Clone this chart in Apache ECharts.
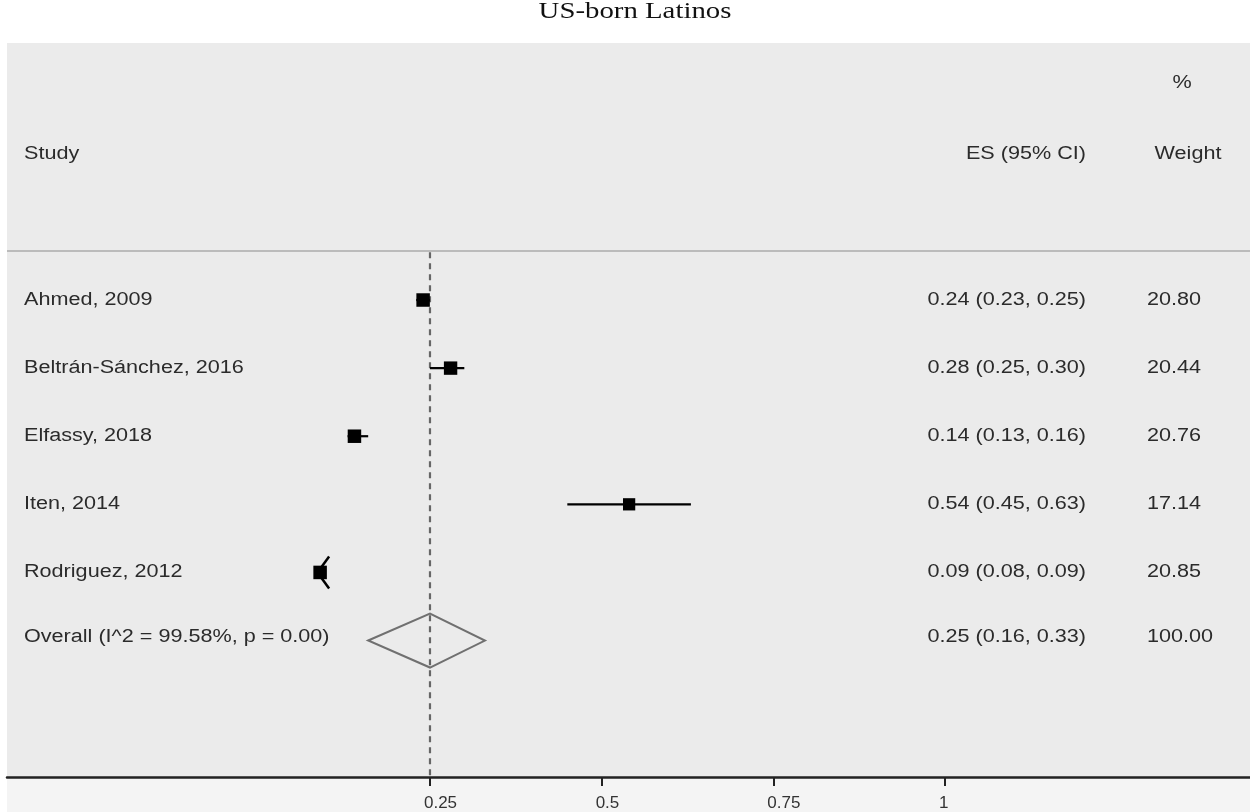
<!DOCTYPE html>
<html>
<head>
<meta charset="utf-8">
<script src="https://cdn.jsdelivr.net/npm/echarts@6/dist/echarts.min.js"></script>
<style>html,body{margin:0;padding:0;background:#fff;}#c{width:1250px;height:812px;}</style>
</head>
<body>
<div id="c"></div>
<script>
// ---- data ----
const chartTitle = "US-born Latinos";
const studies = ["Ahmed, 2009", "Beltrán-Sánchez, 2016", "Elfassy, 2018", "Iten, 2014", "Rodriguez, 2012"];
const es = [0.24, 0.28, 0.14, 0.54, 0.09];
const ciLow = [0.23, 0.25, 0.13, 0.45, 0.08];
const ciHigh = [0.25, 0.30, 0.16, 0.63, 0.09];
const weights = [20.80, 20.44, 20.76, 17.14, 20.85];
const ciArrow = [false, false, false, false, true];
const overallLabel = "Overall (I^2 = 99.58%, p = 0.00)";
const overallES = 0.25, overallLow = 0.16, overallHigh = 0.33, overallWeight = 100.00;
const xTicks = [0.25, 0.5, 0.75, 1];
const headStudy = "Study", headES = "ES (95% CI)", headPct = "%", headWeight = "Weight";

// ---- layout ----
const SX = 1.2;               // horizontal text stretch
const FONT = '18px "Liberation Sans", Arial, sans-serif';
const TXT = '#2b2b2b';
const COL_STUDY = 24, COL_ES = 1086, COL_W = 1147;
const Y_MIN = -3.774, Y_MAX = 7.004;

const chart = echarts.init(document.getElementById('c'));

function txt(x, y, s, align, font, fill) {
  return {
    type: 'text', x: x, y: y, scaleX: SX,
    style: { text: s, fill: fill || TXT, font: font || FONT, align: align, verticalAlign: 'middle' }
  };
}

const rows = studies.map((s, i) => [es[i], i, ciLow[i], ciHigh[i], weights[i]]);

function renderStudy(params, api) {
  const i = params.dataIndex;
  const p = api.coord([api.value(0), api.value(1)]);
  const pl = api.coord([api.value(2), api.value(1)]);
  const ph = api.coord([api.value(3), api.value(1)]);
  const size = 13.5 * Math.sqrt(api.value(4) / 20.8);
  const children = [];
  if (ciArrow[i]) {
    const ex = p[0] + 1;
    children.push({ type: 'line', shape: { x1: ex, y1: p[1] - 5, x2: ex + 8, y2: p[1] - 16 }, style: { stroke: '#000', lineWidth: 2.5 } });
    children.push({ type: 'line', shape: { x1: ex, y1: p[1] + 5, x2: ex + 8, y2: p[1] + 16 }, style: { stroke: '#000', lineWidth: 2.5 } });
  } else {
    children.push({ type: 'line', shape: { x1: pl[0], y1: p[1], x2: ph[0], y2: p[1] }, style: { stroke: '#000', lineWidth: 2.2 } });
  }
  children.push({ type: 'rect', shape: { x: p[0] - size / 2, y: p[1] - size / 2, width: size, height: size }, style: { fill: '#000' } });
  children.push(txt(COL_STUDY, p[1], studies[i], 'left'));
  children.push(txt(COL_ES, p[1], es[i].toFixed(2) + ' (' + ciLow[i].toFixed(2) + ', ' + ciHigh[i].toFixed(2) + ')', 'right'));
  children.push(txt(COL_W, p[1], weights[i].toFixed(2), 'left'));
  return { type: 'group', children: children };
}

function renderOverall(params, api) {
  const y = api.value(1);
  const c = api.coord([api.value(0), y]);
  const l = api.coord([api.value(2), y]);
  const h = api.coord([api.value(3), y]);
  const half = 27;
  const top = api.coord([api.value(0), -0.70])[1];
  const bot = api.coord([api.value(0), Y_MAX])[1];
  const ty = c[1] - 3;
  return {
    type: 'group', children: [
      { type: 'line', shape: { x1: c[0], y1: top, x2: c[0], y2: bot }, style: { stroke: '#666', lineWidth: 2.2, lineDash: [6, 5] } },
      { type: 'polygon', shape: { points: [[l[0], c[1]], [c[0], c[1] - half], [h[0], c[1]], [c[0], c[1] + half]] }, style: { fill: 'none', stroke: '#707070', lineWidth: 2 } },
      txt(COL_STUDY, ty, overallLabel, 'left'),
      txt(COL_ES, ty, api.value(0).toFixed(2) + ' (' + api.value(2).toFixed(2) + ', ' + api.value(3).toFixed(2) + ')', 'right'),
      txt(COL_W, ty, api.value(4).toFixed(2), 'left')
    ]
  };
}

const option = {
  animation: false,
  backgroundColor: '#ffffff',
  grid: { left: 7, right: 0, top: 43, bottom: 35, show: true, backgroundColor: '#ebebeb', borderWidth: 0 },
  xAxis: {
    type: 'value', min: -0.366, max: 1.4442,
    axisLine: { show: true, onZero: false, lineStyle: { color: '#222', width: 2.5 } },
    axisTick: { show: true, customValues: xTicks, length: 9, lineStyle: { color: '#222', width: 2 } },
    axisLabel: { customValues: xTicks, color: '#333', fontSize: 17, fontFamily: '"Liberation Sans", Arial, sans-serif', margin: 18, align: 'left', padding: [0, 0, 0, -6] },
    splitLine: { show: false }
  },
  yAxis: { type: 'value', inverse: true, min: Y_MIN, max: Y_MAX, show: false, splitLine: { show: false } },
  graphic: [
    { type: 'rect', left: 7, top: 778, z: -10, shape: { width: 1243, height: 34 }, style: { fill: '#f4f4f4' } },
    { type: 'line', z: 5, shape: { x1: 7, y1: 251, x2: 1250, y2: 251 }, style: { stroke: '#ababab', lineWidth: 1.5 } },
    txt(635, 12, chartTitle, 'center', '24px "Liberation Serif", "DejaVu Serif", serif', '#111'),
    txt(COL_STUDY, 154, headStudy, 'left'),
    txt(COL_ES, 154, headES, 'right'),
    txt(1182, 83, headPct, 'center'),
    txt(1188, 154, headWeight, 'center')
  ],
  series: [
    { type: 'custom', renderItem: renderStudy, data: rows, clip: false, z: 3 },
    { type: 'custom', renderItem: renderOverall, data: [[overallES, studies.length, overallLow, overallHigh, overallWeight]], clip: false, z: 2 }
  ]
};
chart.setOption(option);
</script>
</body>
</html>
